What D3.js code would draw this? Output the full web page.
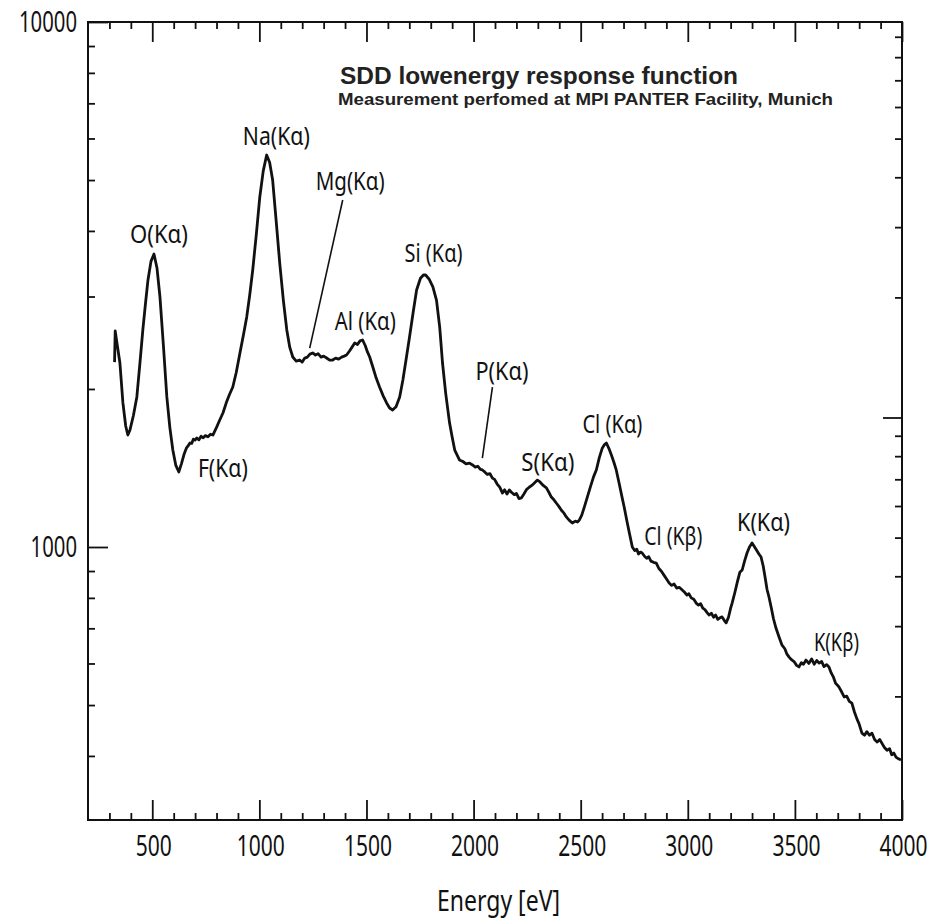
<!DOCTYPE html>
<html>
<head>
<meta charset="utf-8">
<script src="https://cdn.jsdelivr.net/npm/d3@7"></script>
<style>
  body { margin: 0; background: #fff; }
  svg { display: block; }
</style>
</head>
<body>
<div id="chart"></div>
<script>
// spectrum: energy [eV] and counts
const energy = [324, 327, 333, 349, 363, 376, 386, 396, 412, 428, 442, 456, 468, 480, 494, 508, 522, 536, 552, 568,
  582, 596, 610, 624, 636, 648, 660, 668, 676, 684, 692, 700, 708, 718, 728, 738, 748, 760, 772, 783,
  800, 815, 830, 845, 860, 876, 892, 910, 926, 941, 955, 969, 986, 1002, 1018, 1034, 1048, 1062, 1078, 1095,
  1112, 1128, 1142, 1156, 1172, 1188, 1200, 1212, 1224, 1236, 1249, 1262, 1274, 1288, 1300, 1314, 1328, 1342, 1356, 1370,
  1384, 1396, 1407, 1420, 1432, 1445, 1458, 1470, 1482, 1494, 1505, 1515, 1530, 1545, 1561, 1578, 1594, 1608, 1622, 1638,
  1655, 1670, 1686, 1701, 1718, 1734, 1752, 1766, 1776, 1792, 1810, 1827, 1842, 1855, 1870, 1888, 1900, 1912, 1934, 1950,
  1965, 1981, 1995, 2008, 2020, 2032, 2041, 2052, 2064, 2076, 2088, 2098, 2110, 2122, 2135, 2145, 2156, 2167, 2178, 2190,
  2200, 2212, 2223, 2235, 2248, 2261, 2272, 2285, 2298, 2310, 2325, 2340, 2352, 2363, 2375, 2386, 2398, 2410, 2422, 2433,
  2446, 2461, 2475, 2485, 2494, 2505, 2518, 2531, 2545, 2560, 2573, 2587, 2600, 2610, 2620, 2632, 2645, 2655, 2666, 2680,
  2692, 2703, 2716, 2728, 2741, 2752, 2762, 2770, 2779, 2787, 2798, 2808, 2818, 2828, 2840, 2853, 2865, 2876, 2888, 2900,
  2913, 2925, 2936, 2948, 2960, 2974, 2985, 2996, 3005, 3016, 3028, 3039, 3050, 3060, 3070, 3080, 3090, 3100, 3110, 3120,
  3130, 3140, 3150, 3160, 3170, 3179, 3190, 3200, 3207, 3220, 3232, 3243, 3254, 3265, 3277, 3288, 3300, 3312, 3322, 3332,
  3342, 3352, 3362, 3370, 3379, 3390, 3400, 3412, 3426, 3440, 3453, 3463, 3473, 3484, 3496, 3508, 3519, 3530, 3540, 3552,
  3565, 3578, 3590, 3602, 3613, 3625, 3636, 3648, 3659, 3670, 3680, 3690, 3700, 3706, 3718, 3730, 3742, 3754, 3766, 3778,
  3790, 3800, 3813, 3825, 3836, 3848, 3860, 3872, 3884, 3896, 3906, 3918, 3930, 3942, 3952, 3962, 3972, 3984, 3995];

const counts = [2250, 2580, 2480, 2241, 1881, 1700, 1634, 1671, 1780, 1931, 2230, 2591, 2900, 3226, 3500, 3615, 3400, 2993, 2420, 1931,
  1690, 1530, 1430, 1390, 1440, 1500, 1545, 1560, 1578, 1575, 1605, 1598, 1613, 1600, 1625, 1615, 1630, 1622, 1640, 1634,
  1690, 1745, 1800, 1880, 1950, 2017, 2150, 2350, 2540, 2743, 3020, 3370, 3950, 4642, 5200, 5580, 5400, 5000, 4200, 3475,
  2950, 2591, 2400, 2301, 2260, 2271, 2250, 2290, 2300, 2330, 2342, 2320, 2335, 2300, 2310, 2291, 2270, 2271, 2290, 2280,
  2300, 2310, 2321, 2360, 2400, 2446, 2430, 2470, 2479, 2420, 2350, 2301, 2200, 2100, 2017, 1940, 1881, 1840, 1824, 1850,
  1931, 2080, 2290, 2512, 2800, 3087, 3250, 3297, 3297, 3240, 3130, 2950, 2620, 2241, 1960, 1722, 1620, 1530, 1465, 1455,
  1440, 1445, 1433, 1420, 1425, 1405, 1402, 1390, 1375, 1380, 1353, 1345, 1318, 1300, 1267, 1285, 1262, 1284, 1270, 1258,
  1265, 1236, 1240, 1262, 1288, 1301, 1310, 1325, 1341, 1330, 1310, 1296, 1270, 1245, 1230, 1213, 1195, 1175, 1160, 1141,
  1125, 1111, 1120, 1116, 1126, 1150, 1195, 1245, 1300, 1360, 1402, 1480, 1540, 1565, 1578, 1540, 1490, 1450, 1402, 1320,
  1250, 1192, 1120, 1060, 1000, 985, 990, 970, 978, 974, 960, 952, 958, 940, 935, 932, 910, 900, 885, 870,
  854, 845, 850, 835, 838, 828, 820, 810, 815, 800, 795, 782, 775, 780, 765, 760, 750, 742, 748, 735,
  742, 728, 733, 736, 725, 717, 735, 765, 782, 820, 860, 895, 904, 940, 975, 1000, 1018, 1000, 985, 970,
  957, 920, 870, 830, 803, 765, 730, 700, 674, 650, 640, 625, 617, 610, 605, 595, 591, 602, 598, 609,
  600, 612, 598, 608, 601, 605, 592, 597, 591, 575, 565, 550, 545, 541, 530, 518, 520, 508, 504, 485,
  470, 460, 442, 438, 445, 438, 442, 430, 425, 430, 423, 415, 410, 413, 402, 405, 398, 395, 393];

// axis ticks
const xMajorTicks = [500, 1000, 1500, 2000, 2500, 3000, 3500, 4000];
const xMinorTicks = d3.range(300, 4000, 100).filter(d => d % 500 !== 0);
const yLeftMajor = [1000, 10000];
const yLeftMinor = [400, 500, 600, 700, 800, 900, 2000, 3000, 4000, 5000, 6000, 7000, 8000, 9000];
const yRightMajor = [1000];
const yRightMinor = [200, 300, 400, 500, 600, 700, 800, 900, 2000, 3000, 4000, 5000, 6000, 7000, 8000, 9000];

// peak annotations (left edge energy, baseline counts)
const peakLabels = ["O(Kα)", "Na(Kα)", "Mg(Kα)", "Si (Kα)", "Al (Kα)", "F(Kα)", "P(Kα)", "S(Kα)", "Cl (Kα)", "Cl (Kβ)", "K(Kα)", "K(Kβ)"];
const labelEnergy = [396, 923, 1263, 1678, 1352, 713, 2009, 2223, 2508, 2797, 3230, 3589];
const labelCounts = [3793, 5831, 4786, 3490, 2591, 1359, 2080, 1396, 1649, 1009, 1073, 634];
// leader lines for Mg and P
const leaderEnergy = [[1389, 1235], [2088, 2041]];
const leaderCounts = [[4581, 2393], [2017, 1477]];

const titleText = "SDD lowenergy response function";
const subtitleText = "Measurement perfomed at MPI PANTER Facility, Munich";
const xAxisTitle = "Energy [eV]";

// layout
const svgWidth = 942, svgHeight = 921;
const plotLeft = 88, plotRight = 902, plotTop = 22, plotBottom = 820;
const labelWidth = [58, 67, 69, 58, 61, 50, 53, 53, 60, 58, 53, 45];
const numFont = "'Noto Sans', 'DejaVu Sans', sans-serif";

const svg = d3.select("#chart").append("svg")
    .attr("width", svgWidth)
    .attr("height", svgHeight);

svg.append("rect").attr("width", svgWidth).attr("height", svgHeight).attr("fill", "#fff");

const x = d3.scaleLinear().domain([200, 4000]).range([plotLeft, plotRight]);
const y = d3.scaleLog().domain([302, 10000]).range([plotBottom, plotTop]);
// right hand axis of the scan has its own (different) log spacing
const yR = d3.scaleLog().domain([98, 9800]).range([plotBottom, plotTop]);

function styleTicks(g) {
    g.select(".domain").remove();
    g.selectAll(".tick line").attr("stroke", "#111").attr("stroke-width", 1.8);
}

// bottom
svg.append("g")
    .attr("transform", `translate(0,${plotBottom})`)
    .call(d3.axisBottom(x).tickValues(xMinorTicks).tickSize(-7).tickFormat(""))
    .call(styleTicks);
const bx = svg.append("g")
    .attr("transform", `translate(0,${plotBottom})`)
    .call(d3.axisBottom(x).tickValues(xMajorTicks).tickSize(-20).tickPadding(15).tickFormat(d3.format("d")))
    .call(styleTicks);
bx.selectAll(".tick text")
    .attr("font-family", numFont)
    .attr("font-size", 29)
    .attr("fill", "#111")
    .attr("dx", 1)
    .attr("textLength", d => String(d).length * 12)
    .attr("lengthAdjust", "spacingAndGlyphs");

// top
svg.append("g")
    .attr("transform", `translate(0,${plotTop})`)
    .call(d3.axisTop(x).tickValues(xMinorTicks).tickSize(-7).tickFormat(""))
    .call(styleTicks);
svg.append("g")
    .attr("transform", `translate(0,${plotTop})`)
    .call(d3.axisTop(x).tickValues(xMajorTicks).tickSize(-20).tickFormat(""))
    .call(styleTicks);

// left
svg.append("g")
    .attr("transform", `translate(${plotLeft},0)`)
    .call(d3.axisLeft(y).tickValues(yLeftMinor).tickSize(-7).tickFormat(""))
    .call(styleTicks);
const ly = svg.append("g")
    .attr("transform", `translate(${plotLeft},0)`)
    .call(d3.axisLeft(y).tickValues(yLeftMajor).tickSize(-20).tickPadding(11).tickFormat(d3.format("d")))
    .call(styleTicks);
ly.selectAll(".tick text")
    .attr("font-family", numFont)
    .attr("font-size", 29)
    .attr("fill", "#111")
    .attr("textLength", d => String(d).length * 11.6)
    .attr("lengthAdjust", "spacingAndGlyphs");

// right
svg.append("g")
    .attr("transform", `translate(${plotRight},0)`)
    .call(d3.axisRight(yR).tickValues(yRightMinor).tickSize(-7).tickFormat(""))
    .call(styleTicks);
svg.append("g")
    .attr("transform", `translate(${plotRight},0)`)
    .call(d3.axisRight(yR).tickValues(yRightMajor).tickSize(-19).tickFormat(""))
    .call(styleTicks);

// frame
svg.append("rect")
    .attr("x", plotLeft).attr("y", plotTop)
    .attr("width", plotRight - plotLeft).attr("height", plotBottom - plotTop)
    .attr("fill", "none")
    .attr("stroke", "#111")
    .attr("stroke-width", 2);

// spectrum
const line = d3.line()
    .x((d, i) => x(energy[i]))
    .y((d, i) => y(counts[i]));

svg.append("path")
    .datum(counts)
    .attr("d", line)
    .attr("fill", "none")
    .attr("stroke", "#111")
    .attr("stroke-width", 2.8)
    .attr("stroke-linejoin", "round");

// leader lines
svg.selectAll(".leader")
    .data(leaderEnergy)
    .enter().append("line")
    .attr("class", "leader")
    .attr("x1", d => x(d[0]))
    .attr("x2", d => x(d[1]))
    .attr("y1", (d, i) => y(leaderCounts[i][0]))
    .attr("y2", (d, i) => y(leaderCounts[i][1]))
    .attr("stroke", "#111")
    .attr("stroke-width", 1.6);

// peak labels
svg.selectAll(".peak")
    .data(peakLabels)
    .enter().append("text")
    .attr("class", "peak")
    .attr("x", (d, i) => x(labelEnergy[i]))
    .attr("y", (d, i) => y(labelCounts[i]))
    .attr("font-family", numFont)
    .attr("font-size", 25)
    .attr("fill", "#111")
    .attr("textLength", (d, i) => labelWidth[i])
    .attr("lengthAdjust", "spacingAndGlyphs")
    .text(d => d);

// titles
svg.append("text")
    .attr("x", 340).attr("y", 84)
    .attr("font-family", "'Liberation Sans', Arial, sans-serif")
    .attr("font-weight", "bold")
    .attr("font-size", 24)
    .attr("fill", "#222")
    .attr("textLength", 398)
    .attr("lengthAdjust", "spacingAndGlyphs")
    .text(titleText);

svg.append("text")
    .attr("x", 338).attr("y", 105)
    .attr("font-family", "'Liberation Sans', Arial, sans-serif")
    .attr("font-weight", "bold")
    .attr("font-size", 17)
    .attr("fill", "#222")
    .attr("textLength", 495)
    .attr("lengthAdjust", "spacingAndGlyphs")
    .text(subtitleText);

svg.append("text")
    .attr("x", 437).attr("y", 911)
    .attr("font-family", numFont)
    .attr("font-size", 29)
    .attr("fill", "#111")
    .attr("textLength", 123)
    .attr("lengthAdjust", "spacingAndGlyphs")
    .text(xAxisTitle);
</script>
</body>
</html>
